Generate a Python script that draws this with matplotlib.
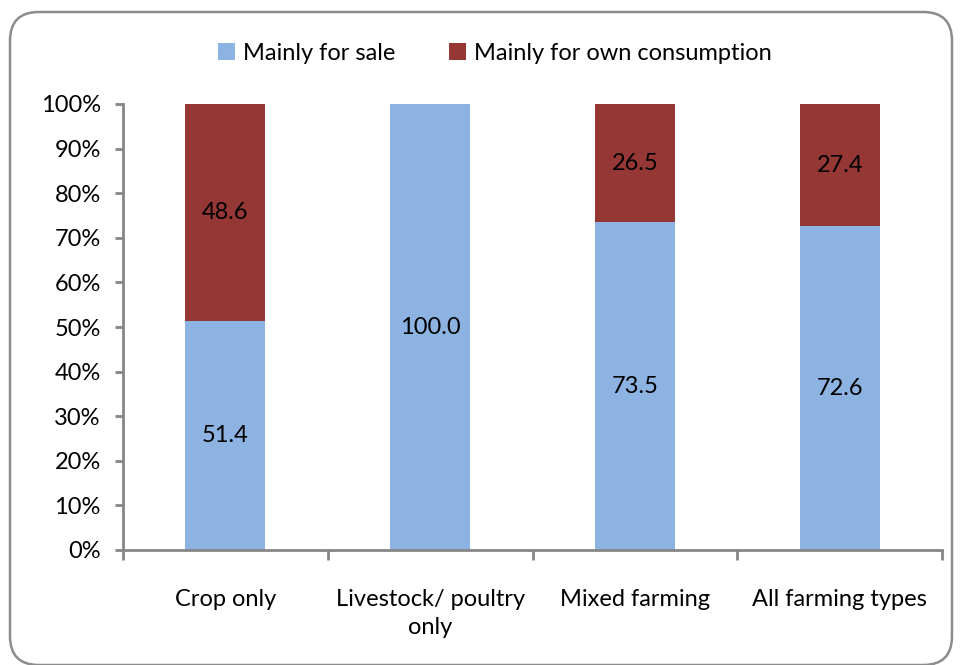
import matplotlib
matplotlib.use("Agg")
import matplotlib.pyplot as plt
from matplotlib.patches import FancyBboxPatch, Patch
from matplotlib.ticker import FixedLocator, FuncFormatter
import numpy as np

categories = ["Crop only", "Livestock/ poultry\nonly", "Mixed farming", "All farming types"]
sale = [51.4, 100.0, 73.5, 72.6]
own = [48.6, 0.0, 26.5, 27.4]
series_names = ["Mainly for sale", "Mainly for own consumption"]
colors = ["#8DB3E2", "#953735"]
y_ticks = list(range(0, 101, 10))

plt.rcParams["font.family"] = ["Lato", "DejaVu Sans"]
FS = 17

fig = plt.figure(figsize=(9.6, 6.65), dpi=100)

# rounded chart frame
frame = FancyBboxPatch((10 / 960, 0 / 665), 942 / 960, 653 / 665,
                       boxstyle="round,pad=0,rounding_size=0.03",
                       transform=fig.transFigure, fill=False,
                       edgecolor="#8c8c8c", linewidth=1.8, mutation_aspect=960 / 665)
fig.patches.append(frame)

ax = fig.add_axes([123 / 960, 1 - 550 / 665, 819 / 960, 446 / 665])
x = np.arange(len(categories))
width = 0.39
ax.bar(x, sale, width, color=colors[0], label=series_names[0])
ax.bar(x, own, width, bottom=sale, color=colors[1], label=series_names[1])

for i in range(len(categories)):
    if sale[i] > 0:
        ax.text(x[i], sale[i] / 2, f"{sale[i]:.1f}", ha="center", va="center", fontsize=FS)
    if own[i] > 0:
        ax.text(x[i], sale[i] + own[i] / 2, f"{own[i]:.1f}", ha="center", va="center", fontsize=FS)

ax.set_xlim(-0.5, len(categories) - 0.5)
ax.set_ylim(0, 100)
ax.yaxis.set_major_locator(FixedLocator(y_ticks))
ax.yaxis.set_major_formatter(FuncFormatter(lambda v, p: f"{int(v)}%"))
ax.set_xticks(x)
ax.set_xticklabels(categories, fontsize=FS, linespacing=1.4)
ax.xaxis.set_minor_locator(FixedLocator(np.arange(-0.5, len(categories), 1.0)))
ax.tick_params(axis="x", which="major", length=0, pad=28)
ax.tick_params(axis="x", which="minor", length=7, width=2, color="#868686", direction="out")
ax.tick_params(axis="y", which="major", length=6, width=2, color="#868686", direction="out",
               labelsize=FS, pad=10)

for s in ["top", "right"]:
    ax.spines[s].set_visible(False)
for s in ["left", "bottom"]:
    ax.spines[s].set_color("#868686")
    ax.spines[s].set_linewidth(2)

handles = [Patch(facecolor=c) for c in colors]
fig.legend(handles, series_names, loc="center", bbox_to_anchor=(495 / 960, 1 - 53 / 665),
           ncol=2, frameon=False, fontsize=FS, handlelength=0.7, handleheight=0.7,
           handletextpad=0.35, columnspacing=2.3)

fig.savefig("out.png", dpi=100)
